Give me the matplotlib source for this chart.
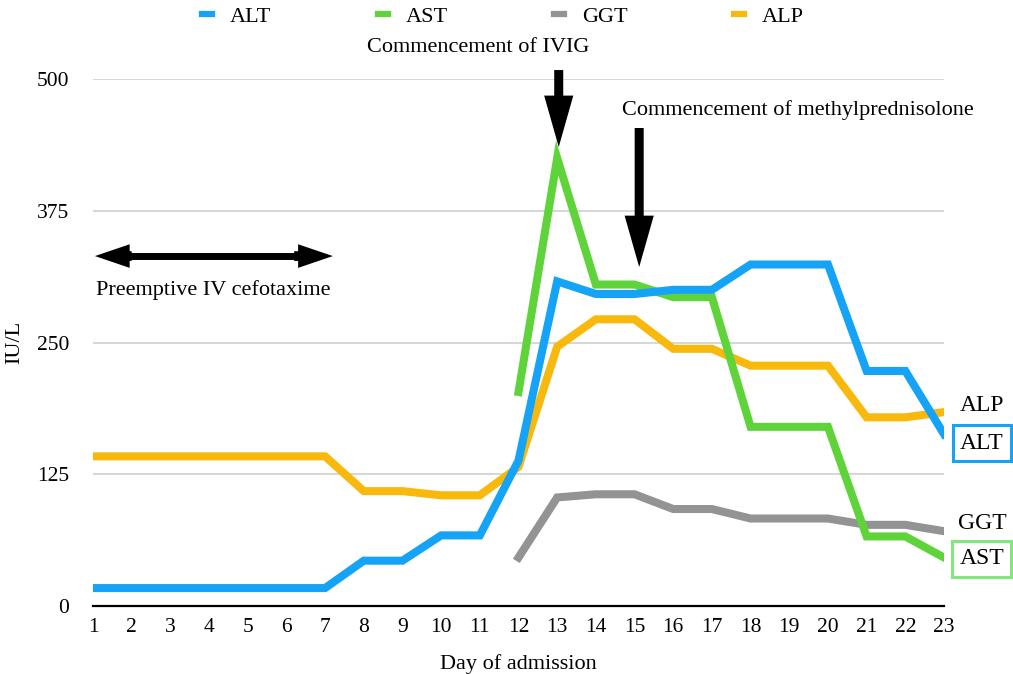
import matplotlib
matplotlib.use("Agg")
import matplotlib.pyplot as plt
from matplotlib.lines import Line2D

plt.rcParams['font.family'] = ['Liberation Serif', 'DejaVu Serif']

days = list(range(1, 24))
alt = [17, 17, 17, 17, 17, 17, 17, 43, 43, 67, 67, 138, 308, 296, 296, 300, 300, 324, 324, 324, 223, 223, 163]
ast_days = list(range(12, 24))
ast = [203, 425, 305, 305, 293, 293, 170, 170, 170, 66, 66, 46]
ggt_days = list(range(12, 24))
ggt = [46, 103, 106, 106, 92, 92, 83, 83, 83, 77, 77, 71]
alp = [142, 142, 142, 142, 142, 142, 142, 109, 109, 105, 105, 132, 246, 272, 272, 244, 244, 228, 228, 228, 179, 179, 184]
yticks = [0, 125, 250, 375, 500]

c_alt = '#14A3F7'
c_ast = '#5ED43A'
c_ggt = '#939393'
c_alp = '#F9B80C'

fig = plt.figure(figsize=(10.13, 6.74), dpi=100)
ax = fig.add_axes([93/1013, 1-606/674, (944-93)/1013, (606-79)/674])

lw = 5.8
ax.plot(days, alp, color=c_alp, lw=lw, solid_joinstyle='miter', zorder=3)
ax.plot(ggt_days, ggt, color=c_ggt, lw=lw, solid_joinstyle='miter', zorder=3)
ax.plot(ast_days, ast, color=c_ast, lw=lw, solid_joinstyle='miter', zorder=4)
ax.plot(days, alt, color=c_alt, lw=lw, solid_joinstyle='miter', zorder=5)

ax.set_xlim(1, 23)
ax.set_ylim(0, 500)
ax.set_xticks(days)
ax.set_yticks(yticks)
ax.tick_params(axis='both', length=0, labelsize=15.5)
ax.tick_params(axis='x', pad=9)
ax.tick_params(axis='y', pad=17)
for s in ['left', 'right', 'top']:
    ax.spines[s].set_visible(False)
ax.spines['bottom'].set_color('black')
ax.spines['bottom'].set_linewidth(1.6)
ax.grid(axis='y', color='#CCCCCC', lw=1.1)
ax.set_axisbelow(True)

ax.set_xlabel('Day of admission', fontsize=16, labelpad=12)
ax.set_ylabel('IU/L', fontsize=16, labelpad=9)

# arrows
def down_arrow(x, y0, y1):
    ax.annotate('', xy=(x, y1), xytext=(x, y0), annotation_clip=False,
                arrowprops=dict(arrowstyle='simple,head_width=2.1,head_length=3.7,tail_width=0.65',
                                mutation_scale=10, fc='black', ec='none', lw=0,
                                shrinkA=0, shrinkB=0), zorder=6)

down_arrow(13.04, 508.5, 435.5)
down_arrow(15.12, 453.5, 321.6)

# double arrow for cefotaxime
ax.plot([1.6, 6.6], [332, 332], color='black', lw=5.0, solid_capstyle='butt', zorder=6)
for start, end in ((2.0, 1.05), (6.2, 7.2)):
    ax.annotate('', xy=(end, 332), xytext=(start, 332), annotation_clip=False,
                arrowprops=dict(arrowstyle='simple,head_width=1.7,head_length=2.5,tail_width=0.7',
                                mutation_scale=10, fc='black', ec='none', lw=0,
                                shrinkA=0, shrinkB=0), zorder=6)

ax.text(4.1, 300, 'Preemptive IV cefotaxime', ha='center', va='center', fontsize=16)
fig.text(478/1013, 1-47/674, 'Commencement of IVIG', ha='center', va='center', fontsize=16)
ax.text(14.68, 471, 'Commencement of methylprednisolone', ha='left', va='center', fontsize=16)

# right labels
lx = 23.98
ax.text(lx, 190, 'ALP', ha='center', va='center', fontsize=17, clip_on=False)
ax.text(lx, 154.6, 'ALT', ha='center', va='center', fontsize=17, clip_on=False,
        bbox=dict(boxstyle='square,pad=0.3', fc='white', ec=c_alt, lw=2.2))
ax.text(lx, 78.7, 'GGT', ha='center', va='center', fontsize=17, clip_on=False)
ax.text(lx, 44.6, 'AST', ha='center', va='center', fontsize=17, clip_on=False,
        bbox=dict(boxstyle='square,pad=0.3', fc='white', ec='#7FE87F', lw=2.2))

handles = [Line2D([], [], color=c, lw=4.5) for c in (c_alt, c_ast, c_ggt, c_alp)]
fig.legend(handles, ['ALT', 'AST', 'GGT', 'ALP'], loc='center', bbox_to_anchor=(503/1013, 1-17/674),
           ncol=4, frameon=False, fontsize=16, handlelength=0.45, handletextpad=0.8,
           columnspacing=4.8)

fig.savefig('out.png', dpi=100)
